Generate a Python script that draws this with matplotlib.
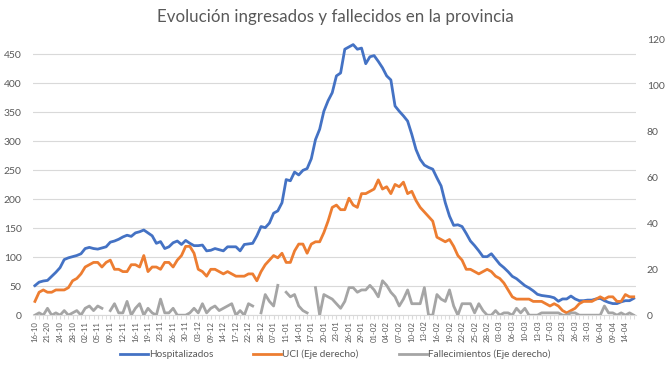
import matplotlib.pyplot as plt
import numpy as np

nan = np.nan

# etiquetas del eje X (una cada 3 dias de datos)
etiquetas = ["16-10", "21-20", "24-10", "28-10", "02-11", "05-11", "09-11", "12-11",
             "16-11", "19-11", "23-11", "26-11", "30-11", "03-12", "09-12", "14-12",
             "17-12", "22-12", "28-12", "07-01", "11-01", "14-01", "17-01", "20-01",
             "23-01", "26-01", "29-01", "01-02", "04-02", "07-02", "10-02", "13-02",
             "16-02", "19-02", "22-02", "25-02", "28-02", "03-03", "06-03", "10-03",
             "13-03", "17-03", "23-03", "26-03", "31-03", "06-04", "09-04", "14-04"]

hospitalizados = [51, 57, 59, 60, 67, 74, 82, 96, 99, 101,
                  103, 106, 115, 117, 115, 114, 116, 118, 126, 128,
                  131, 135, 138, 136, 142, 144, 147, 142, 137, 124,
                  127, 115, 118, 125, 128, 122, 129, 124, 120, 120,
                  121, 111, 112, 115, 113, 111, 118, 118, 118, 111,
                  122, 123, 124, 137, 153, 151, 159, 176, 180, 194,
                  234, 232, 247, 242, 250, 253, 270, 303, 321, 352,
                  370, 384, 413, 418, 459, 463, 467, 459, 461, 434,
                  446, 448, 438, 427, 413, 406, 361, 352, 344, 335,
                  312, 286, 269, 259, 255, 252, 237, 223, 194, 171,
                  155, 156, 153, 141, 128, 120, 111, 101, 101, 106,
                  97, 88, 82, 75, 67, 63, 57, 51, 47, 42,
                  36, 34, 33, 32, 30, 24, 28, 28, 33, 28,
                  25, 25, 26, 26, 28, 29, 25, 22, 20, 20,
                  23, 25, 25, 29]

uci = [6, 10, 11, 10, 10, 11, 11, 11, 12, 15,
       16, 18, 21, 22, 23, 23, 21, 23, 24, 20,
       20, 19, 19, 22, 22, 21, 26, 19, 21, 21,
       20, 23, 23, 21, 24, 26, 30, 30, 27, 20,
       19, 17, 20, 20, 19, 18, 19, 18, 17, 17,
       17, 18, 18, 15, 19, 22, 24, 26, 25, 27,
       23, 23, 28, 31, 31, 27, 31, 32, 32, 36,
       41, 47, 48, 46, 46, 51, 48, 47, 53, 53,
       54, 55, 59, 55, 56, 53, 57, 56, 58, 53,
       54, 50, 47, 45, 43, 41, 34, 33, 32, 33,
       30, 26, 24, 20, 20, 19, 18, 19, 20, 19,
       17, 16, 14, 11, 8, 7, 7, 7, 7, 6,
       6, 6, 5, 4, 5, 4, 2, 1, 2, 3,
       5, 6, 6, 6, 7, 8, 7, 8, 8, 6,
       6, 9, 8, 8]

fallecimientos = [0, 1, 0, 3, 0, 1, 0, 2, 0, 1,
                  2, 0, 3, 4, 2, 4, 3, nan, 2, 5,
                  1, 1, 6, 0, 3, 5, 0, 3, 1, 0,
                  7, 1, 1, 3, 0, 0, 0, 1, 3, 1,
                  5, 1, 3, 4, 2, 3, 4, 5, 0, 2,
                  0, 5, 4, nan, 1, 9, 6, 4, 13, nan,
                  10, 8, 9, 4, 2, 1, nan, 12, 0, 9,
                  8, 7, 5, 3, 6, 12, 12, 10, 11, 11,
                  13, 11, 8, 15, 13, 10, 8, 4, 7, 11,
                  5, 5, 5, 12, 0, 0, 9, 7, 6, 11,
                  4, 0, 5, 5, 5, 1, 5, 2, 0, 0,
                  2, 0, 1, 1, 0, 3, 1, 3, 0, 0,
                  0, 1, 1, 1, 1, 1, 0, 0, 1, 1,
                  0, 0, 0, 0, 0, 0, 4, 1, 1, 0,
                  1, 0, 1, 0]

azul = "#4472C4"
naranja = "#ED7D31"
gris = "#A5A5A5"
texto = "#595959"

plt.rcParams['font.family'] = ['Lato', 'DejaVu Sans']

x = np.arange(len(hospitalizados))

fig = plt.figure(figsize=(6.7, 3.77), dpi=100)
ax = fig.add_axes([0.049, 0.164, 0.9, 0.730])
ax2 = ax.twinx()

l1, = ax.plot(x, hospitalizados, color=azul, lw=2.0, label="Hospitalizados")
l2, = ax2.plot(x, uci, color=naranja, lw=2.0, label="UCI (Eje derecho)")
l3, = ax2.plot(x, fallecimientos, color=gris, lw=2.0, label="Fallecimientos (Eje derecho)")

ax.set_xlim(-0.5, len(x) - 0.5)
ax.set_ylim(0, 475)
ax2.set_ylim(0, 120)
ax.set_yticks(np.arange(0, 451, 50))
ax2.set_yticks(np.arange(0, 121, 20))

ax.grid(axis='y', color="#D9D9D9", lw=0.8)
ax.set_axisbelow(True)
for a in (ax, ax2):
    for s in a.spines.values():
        s.set_visible(False)
ax.spines['bottom'].set_visible(True)
ax.spines['bottom'].set_color("#D9D9D9")

ax.set_xticks(np.arange(0, 3 * len(etiquetas), 3))
ax.set_xticklabels(etiquetas, rotation=90, fontsize=5.6, color=texto)
ax.set_xticks(x, minor=True)
ax.tick_params(axis='x', which='both', length=3, color="#D9D9D9", pad=1)
ax.tick_params(axis='y', length=0, labelsize=7.5, labelcolor=texto, pad=8)
ax2.tick_params(axis='y', length=0, labelsize=7.5, labelcolor=texto, pad=8)

fig.suptitle("Evolución ingresados y fallecidos en la provincia", y=0.975,
             fontsize=12.2, color=texto)

fig.legend(handles=[l1, l2, l3], loc='center', bbox_to_anchor=(0.5, 0.06),
           ncol=3, frameon=False, fontsize=7.2, handlelength=2.8,
           columnspacing=4.0, handletextpad=0.1, labelcolor=texto)

fig.savefig("out.png", dpi=100)
